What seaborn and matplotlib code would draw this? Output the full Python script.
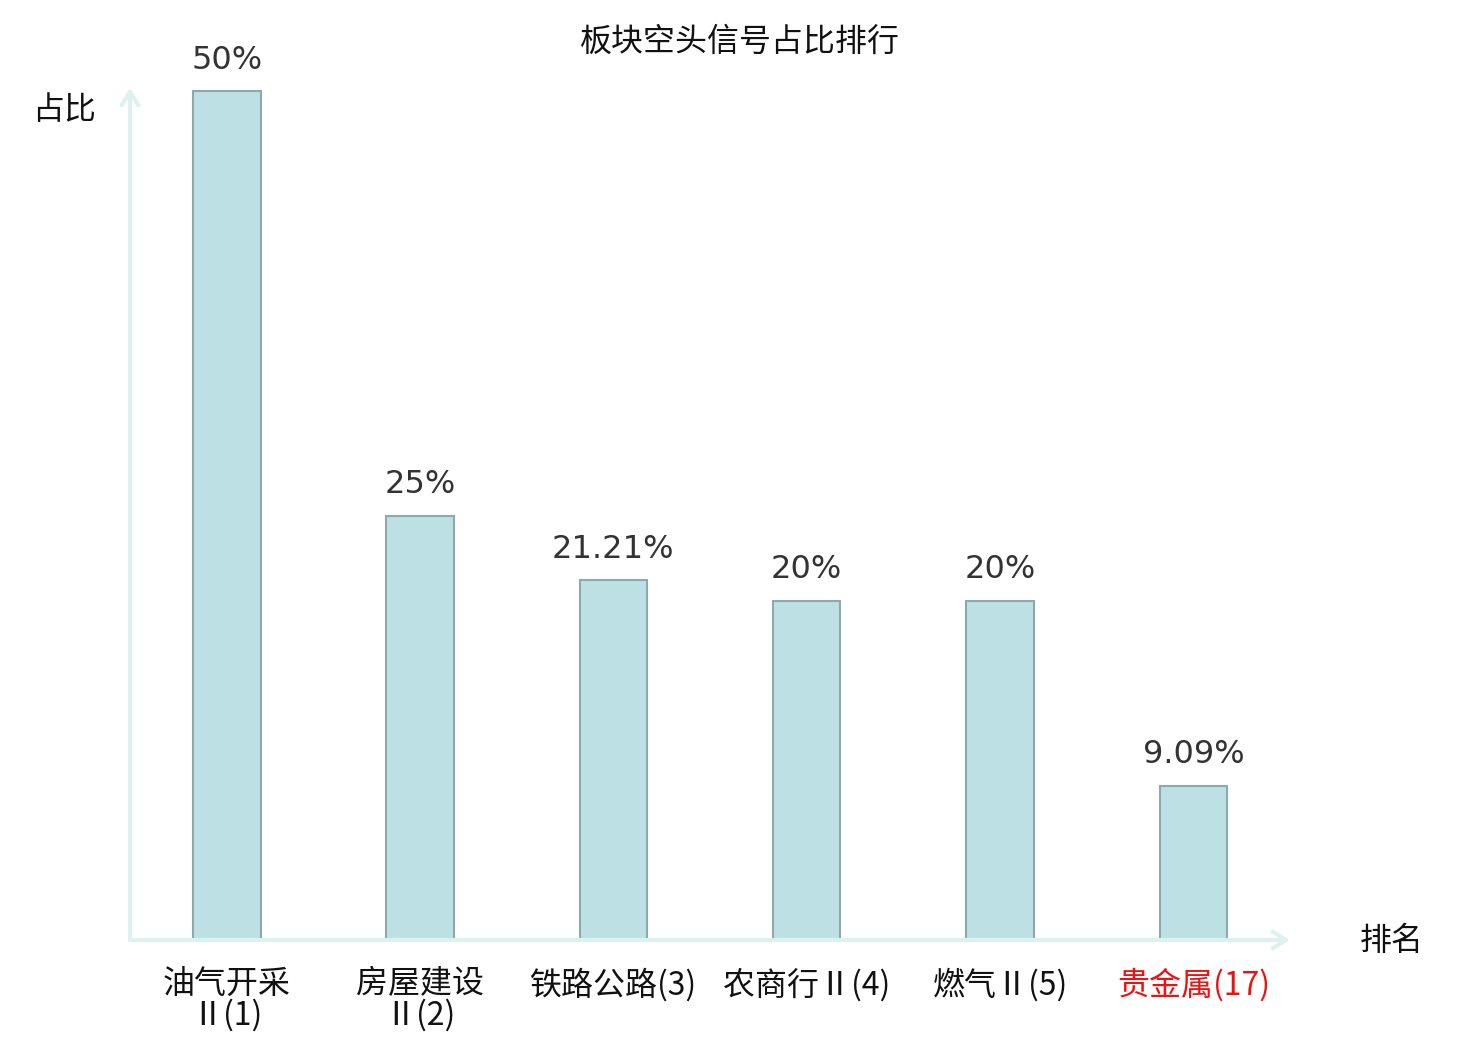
import matplotlib
matplotlib.use("Agg")
import numpy as np
import pandas as pd
import seaborn as sns
from matplotlib import pyplot as plt

# data
sectors = ["油气开采\nⅡ(1)", "房屋建设\nⅡ(2)", "铁路公路(3)", "农商行Ⅱ(4)", "燃气Ⅱ(5)", "贵金属(17)"]
ratios = [50, 25, 21.21, 20, 20, 9.09]
ratio_labels = ["50%", "25%", "21.21%", "20%", "20%", "9.09%"]
label_colors = ["#111111", "#111111", "#111111", "#111111", "#111111", "#ee1111"]

sns.set_theme(style="white")
plt.rcParams["font.family"] = ["Noto Sans CJK SC", "DejaVu Sans"]

df = pd.DataFrame({"sector": sectors, "ratio": ratios})

fig = plt.figure(figsize=(14.8, 10.4), dpi=100)
ax = fig.add_axes([130 / 1480, 100 / 1040, 1160 / 1480, 852 / 1040])

sns.barplot(df, x="sector", y="ratio", color="#bce0e3", width=0.35,
            edgecolor="#8ea9aa", linewidth=1.5, saturation=1, ax=ax)

ax.set_xlim(-0.5, 5.5)
ax.set_ylim(0, 50.2)
for s in ax.spines.values():
    s.set_visible(False)
ax.set_yticks([])
ax.set_xlabel("")
ax.set_ylabel("")
ax.tick_params(axis="x", length=0, pad=20)
ax.set_xticks(range(len(sectors)))
ax.set_xticklabels(sectors, fontsize=23, linespacing=0.98)
for t, c in zip(ax.get_xticklabels(), label_colors):
    t.set_color(c)

# value labels
for i, (v, lab) in enumerate(zip(ratios, ratio_labels)):
    ax.annotate(lab, (i, v), xytext=(0, 11), textcoords="offset points",
                ha="center", va="bottom", fontsize=23, color="#333333",
                family="DejaVu Sans")

# axis arrows
axis_color = "#ddf2ef"
ax.annotate("", xy=(1.0, 0), xytext=(0, 0), xycoords="axes fraction",
            arrowprops=dict(arrowstyle="->,head_length=0.8,head_width=0.5",
                            color=axis_color, lw=3, shrinkA=0, shrinkB=0))
ax.annotate("", xy=(0, 1.0), xytext=(0, 0), xycoords="axes fraction",
            arrowprops=dict(arrowstyle="->,head_length=0.8,head_width=0.5",
                            color=axis_color, lw=3, shrinkA=0, shrinkB=0))

fig.text(740 / 1480, 1 - 42 / 1040, "板块空头信号占比排行", ha="center", va="center",
         fontsize=23, color="#111111")
fig.text(64 / 1480, 1 - 110 / 1040, "占比", ha="center", va="center",
         fontsize=23, color="#111111")
fig.text(1392 / 1480, 1 - 941 / 1040, "排名", ha="center", va="center",
         fontsize=23, color="#111111")

fig.savefig("out.png", dpi=100, facecolor="white")
